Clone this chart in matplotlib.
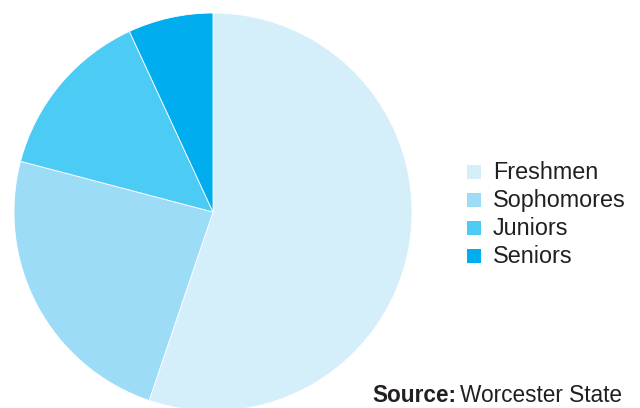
import matplotlib
matplotlib.use("Agg")
import matplotlib.pyplot as plt
from matplotlib.patches import Rectangle

# Class-year distribution
categories = ["Freshmen", "Sophomores", "Juniors", "Seniors"]
shares = [55.2, 23.9, 14.0, 6.9]
colors = ["#d4eefa", "#9cdcf7", "#4ccbf5", "#00aeef"]

plt.rcParams["font.family"] = ["Liberation Sans", "DejaVu Sans"]
TEXT = "#231f20"

fig = plt.figure(figsize=(6.4, 4.08), dpi=100)
W, H = 640, 408
cx, cy, r = 213, 212, 199
ax = fig.add_axes([(cx - r) / W, (H - cy - r) / H, 2 * r / W, 2 * r / H])
wedges, _ = ax.pie(shares, colors=colors, startangle=90, counterclock=False,
                   radius=1, wedgeprops=dict(linewidth=0.6, edgecolor="white"))
for w in wedges:
    w.set_clip_on(False)
ax.set_xlim(-1, 1)
ax.set_ylim(-1, 1)
ax.set_aspect("equal")
ax.axis("off")

# Legend: small square swatch followed by the label, one row per class year
sq = 14
row0, step = 179, 28
for i, (lab, col) in enumerate(zip(categories, colors)):
    base = row0 + i * step
    fig.patches.append(Rectangle((467 / W, (H - base) / H), sq / W, sq / H,
                                 transform=fig.transFigure, facecolor=col,
                                 edgecolor="none"))
    fig.text(493 / W, (H - base) / H, lab, fontsize=16.8, color=TEXT,
             ha="left", va="baseline")

fig.text(372 / W, 0.5 / H, "Source:", fontsize=16.3,
         fontweight="bold", color=TEXT, ha="left", va="bottom")
fig.text(460 / W, 0.5 / H, "Worcester State", fontsize=16.3,
         color=TEXT, ha="left", va="bottom")

fig.savefig("out.png", dpi=100, facecolor="white")
